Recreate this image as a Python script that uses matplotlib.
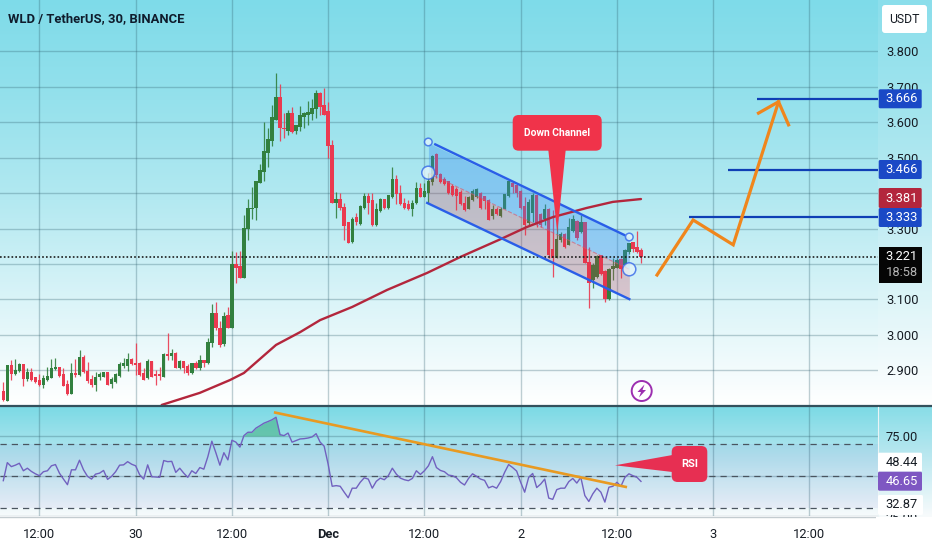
import numpy as np
import matplotlib
matplotlib.use('Agg')
import matplotlib.pyplot as plt
from matplotlib.patches import Rectangle, FancyBboxPatch, Polygon, Circle

W, H = 932, 550

opens = [2.840, 2.815, 2.913, 2.890, 2.899, 2.915, 2.875, 2.894, 2.880, 2.871,
         2.859, 2.874, 2.878, 2.903, 2.908, 2.887, 2.859, 2.834, 2.892, 2.887,
         2.937, 2.896, 2.875, 2.859, 2.882, 2.882, 2.894, 2.862, 2.868, 2.885,
         2.913, 2.913, 2.930, 2.920, 2.920, 2.892, 2.878, 2.925, 2.887, 2.887,
         2.883, 2.945, 2.941, 2.946, 2.906, 2.925, 2.911, 2.894, 2.920, 2.906,
         2.927, 2.920, 2.977, 3.061, 3.019, 2.975, 3.053, 3.021, 3.197, 3.192,
         3.161, 3.298, 3.355, 3.357, 3.429, 3.460, 3.514, 3.547, 3.607, 3.669,
         3.582, 3.575, 3.622, 3.575, 3.587, 3.615, 3.620, 3.622, 3.636, 3.681,
         3.645, 3.629, 3.532, 3.373, 3.380, 3.359, 3.316, 3.263, 3.331, 3.314,
         3.357, 3.390, 3.378, 3.310, 3.350, 3.380, 3.357, 3.388, 3.438, 3.399,
         3.371, 3.366, 3.356, 3.371, 3.413, 3.390, 3.401, 3.432, 3.507, 3.451,
         3.438, 3.432, 3.418, 3.410, 3.401, 3.371, 3.354, 3.380, 3.388, 3.399,
         3.390, 3.378, 3.335, 3.354, 3.335, 3.354, 3.392, 3.427, 3.420, 3.404,
         3.360, 3.315, 3.343, 3.392, 3.338, 3.328, 3.352, 3.240, 3.216, 3.267,
         3.282, 3.253, 3.294, 3.319, 3.291, 3.316, 3.204, 3.155, 3.164, 3.223,
         3.178, 3.100, 3.185, 3.190, 3.213, 3.197, 3.235, 3.260, 3.247, 3.237]
closes = [2.817, 2.913, 2.890, 2.899, 2.915, 2.875, 2.894, 2.873, 2.868, 2.859,
          2.876, 2.882, 2.906, 2.908, 2.885, 2.857, 2.834, 2.890, 2.887, 2.935,
          2.896, 2.870, 2.859, 2.881, 2.887, 2.894, 2.859, 2.873, 2.887, 2.915,
          2.918, 2.930, 2.918, 2.915, 2.887, 2.873, 2.925, 2.883, 2.884, 2.884,
          2.945, 2.941, 2.946, 2.906, 2.925, 2.906, 2.894, 2.918, 2.906, 2.927,
          2.922, 2.979, 3.061, 3.019, 2.972, 3.052, 3.021, 3.197, 3.188, 3.160,
          3.300, 3.357, 3.357, 3.432, 3.462, 3.516, 3.549, 3.613, 3.669, 3.582,
          3.579, 3.622, 3.573, 3.590, 3.617, 3.622, 3.626, 3.638, 3.681, 3.643,
          3.620, 3.532, 3.373, 3.380, 3.357, 3.307, 3.260, 3.324, 3.319, 3.360,
          3.390, 3.373, 3.310, 3.352, 3.380, 3.357, 3.392, 3.438, 3.397, 3.368,
          3.357, 3.354, 3.371, 3.413, 3.390, 3.404, 3.432, 3.502, 3.451, 3.432,
          3.425, 3.399, 3.394, 3.392, 3.369, 3.352, 3.388, 3.404, 3.408, 3.357,
          3.378, 3.324, 3.354, 3.341, 3.354, 3.394, 3.432, 3.416, 3.399, 3.357,
          3.310, 3.373, 3.392, 3.315, 3.310, 3.354, 3.225, 3.218, 3.269, 3.282,
          3.247, 3.303, 3.324, 3.272, 3.316, 3.204, 3.146, 3.194, 3.221, 3.172,
          3.100, 3.185, 3.193, 3.209, 3.185, 3.237, 3.256, 3.241, 3.235, 3.221]
highs = [2.868, 2.913, 2.930, 2.931, 2.922, 2.917, 2.906, 2.906, 2.883, 2.890,
         2.887, 2.909, 2.932, 2.934, 2.911, 2.906, 2.873, 2.922, 2.931, 2.959,
         2.945, 2.925, 2.887, 2.897, 2.897, 2.894, 2.894, 2.883, 2.892, 2.925,
         2.934, 2.950, 2.934, 2.977, 2.925, 2.906, 2.931, 2.927, 2.901, 2.909,
         2.948, 3.007, 2.960, 2.953, 2.930, 2.925, 2.918, 2.920, 2.928, 2.943,
         2.930, 2.991, 3.087, 3.094, 3.039, 3.064, 3.078, 3.237, 3.234, 3.237,
         3.338, 3.382, 3.418, 3.432, 3.482, 3.601, 3.582, 3.648, 3.737, 3.707,
         3.624, 3.634, 3.641, 3.592, 3.645, 3.629, 3.660, 3.664, 3.690, 3.685,
         3.695, 3.657, 3.549, 3.404, 3.401, 3.371, 3.319, 3.331, 3.343, 3.366,
         3.401, 3.401, 3.401, 3.373, 3.385, 3.382, 3.394, 3.472, 3.451, 3.422,
         3.385, 3.380, 3.380, 3.432, 3.427, 3.429, 3.455, 3.507, 3.512, 3.455,
         3.446, 3.435, 3.425, 3.416, 3.408, 3.392, 3.392, 3.410, 3.413, 3.404,
         3.392, 3.382, 3.366, 3.361, 3.360, 3.397, 3.438, 3.435, 3.422, 3.408,
         3.390, 3.382, 3.399, 3.394, 3.343, 3.369, 3.357, 3.352, 3.329, 3.291,
         3.288, 3.329, 3.338, 3.324, 3.338, 3.319, 3.249, 3.202, 3.225, 3.225,
         3.183, 3.188, 3.216, 3.216, 3.216, 3.241, 3.258, 3.263, 3.294, 3.244]
lows = [2.815, 2.815, 2.873, 2.887, 2.897, 2.857, 2.871, 2.871, 2.866, 2.856,
        2.850, 2.871, 2.878, 2.901, 2.881, 2.857, 2.831, 2.834, 2.883, 2.884,
        2.894, 2.866, 2.854, 2.843, 2.873, 2.881, 2.859, 2.852, 2.866, 2.883,
        2.906, 2.899, 2.916, 2.887, 2.884, 2.873, 2.875, 2.881, 2.859, 2.873,
        2.883, 2.930, 2.930, 2.906, 2.903, 2.894, 2.887, 2.889, 2.903, 2.901,
        2.911, 2.918, 2.965, 3.014, 2.967, 2.969, 3.019, 3.021, 3.147, 3.160,
        3.160, 3.267, 3.328, 3.324, 3.429, 3.435, 3.474, 3.532, 3.605, 3.547,
        3.554, 3.563, 3.570, 3.566, 3.575, 3.582, 3.591, 3.605, 3.610, 3.620,
        3.620, 3.500, 3.371, 3.329, 3.352, 3.268, 3.258, 3.260, 3.310, 3.310,
        3.354, 3.341, 3.307, 3.307, 3.347, 3.354, 3.354, 3.385, 3.369, 3.366,
        3.354, 3.352, 3.335, 3.369, 3.388, 3.388, 3.371, 3.422, 3.441, 3.429,
        3.422, 3.397, 3.392, 3.352, 3.366, 3.350, 3.354, 3.378, 3.385, 3.354,
        3.354, 3.324, 3.326, 3.338, 3.333, 3.354, 3.390, 3.399, 3.388, 3.354,
        3.282, 3.310, 3.319, 3.305, 3.305, 3.310, 3.216, 3.164, 3.216, 3.263,
        3.244, 3.253, 3.291, 3.268, 3.286, 3.202, 3.075, 3.131, 3.160, 3.169,
        3.094, 3.099, 3.155, 3.188, 3.160, 3.193, 3.228, 3.235, 3.230, 3.204]
rsi = [47.1, 58.4, 55.9, 56.8, 58.0, 53.3, 54.9, 52.9, 51.4, 50.2,
       52.7, 53.3, 56.4, 57.2, 51.8, 48.1, 44.6, 53.9, 53.9, 59.9,
       53.9, 49.8, 48.1, 51.2, 51.8, 53.5, 47.9, 49.8, 52.7, 56.8,
       57.0, 59.0, 57.4, 56.4, 50.8, 48.1, 57.0, 49.6, 49.4, 49.2,
       59.7, 59.0, 59.2, 52.3, 54.9, 51.8, 49.2, 53.3, 51.6, 55.3,
       54.3, 62.1, 71.8, 64.6, 56.8, 64.6, 60.1, 72.4, 71.2, 68.1,
       75.3, 77.4, 77.4, 80.0, 81.5, 83.1, 84.1, 85.2, 86.8, 75.9,
       75.3, 76.9, 71.2, 72.2, 73.2, 73.4, 73.8, 74.5, 76.5, 71.2,
       68.7, 57.4, 43.6, 44.0, 43.6, 39.9, 36.4, 42.4, 42.4, 46.1,
       48.9, 48.1, 42.4, 46.7, 48.7, 47.7, 50.2, 54.9, 51.2, 48.7,
       47.7, 47.1, 48.5, 53.3, 51.0, 53.3, 56.4, 62.1, 55.3, 53.5,
       52.7, 50.6, 50.2, 48.9, 46.1, 44.4, 48.5, 51.4, 49.8, 48.1,
       47.3, 42.6, 43.6, 42.4, 46.5, 52.3, 57.2, 55.3, 53.1, 46.1,
       39.9, 49.2, 51.6, 42.8, 45.0, 48.1, 36.2, 35.4, 41.5, 42.4,
       42.4, 46.5, 48.5, 45.6, 49.2, 37.8, 34.1, 38.9, 42.4, 39.9,
       33.7, 43.0, 43.6, 46.1, 43.6, 49.2, 51.4, 50.2, 49.2, 46.65]

ma_bars = [39.5, 49, 56.5, 60, 68, 74, 79, 87, 95.7, 105.7, 114, 124, 130.5, 137, 145.5, 152, 159]
ma_vals = [2.803, 2.837, 2.873, 2.893, 2.972, 3.008, 3.042, 3.079, 3.127, 3.175, 3.220, 3.270, 3.304, 3.332, 3.358, 3.375, 3.383]

tick_bars = [9, 33, 57, 81, 105, 129, 153, 177, 201]
tick_labels = ['12:00', '30', '12:00', 'Dec', '12:00', '2', '12:00', '3', '12:00']
price_ticks = [2.9, 3.0, 3.1, 3.2, 3.3, 3.4, 3.5, 3.6, 3.7, 3.8]
# 3.200 sits fully behind the black last-price box
price_labels = ['2.900', '3.000', '3.100', '', '3.300', '3.400', '3.500', '3.600', '3.700', '3.800']

# channel: bar index, price
chan_top = ([107.7, 154.8], [3.537, 3.282])
chan_bot = ([105.7, 156.1], [3.372, 3.101])
chan_x = [106, 156.1]
chan_upper = [3.541, 3.276]
chan_mid = [3.456, 3.185]
chan_lower = [3.372, 3.101]

# forecast arrow
path_bars = [163, 172, 182, 193.3]
path_vals = [3.169, 3.324, 3.254, 3.657]
head_bars = [188.3, 193.3, 195.8]
head_vals = [3.625, 3.657, 3.592]

targets = [3.666, 3.466, 3.333]
target_start = [187.9, 180.7, 171]

rsi_trend_bars = [67.8, 155.2]
rsi_trend_vals = [89.7, 43.2]

plt.rcParams['font.family'] = ['Roboto', 'DejaVu Sans']
fig = plt.figure(figsize=(W / 100, H / 100), dpi=100)


def rect(x0, y0, x1, y1):
    return [x0 / W, 1 - y1 / H, (x1 - x0) / W, (y1 - y0) / H]


def gradient(ys, stops, cols):
    rgb = np.array([matplotlib.colors.to_rgb(c) for c in cols])
    return np.stack([np.interp(ys, stops, rgb[:, k]) for k in range(3)], axis=1)[:, None, :]


# backgrounds
bg = fig.add_axes([0, 0, 1, 1], zorder=0)
bg.axis('off')
ys = np.arange(H)
main_grad = gradient(ys[:406], [0, 100, 200, 300, 405], ['#7edbe9', '#95e1ec', '#b3e9f1', '#daf4f8', '#ffffff'])
rsi_grad = gradient(ys[:111], [0, 50, 110], ['#7cdae5', '#b4e6ef', '#f8fbfc'])
bg.imshow(main_grad, extent=[0, W, 405, 0], aspect='auto', zorder=0)
bg.imshow(rsi_grad, extent=[0, W, 517, 407], aspect='auto', zorder=0)
bg.set_xlim(0, W)
bg.set_ylim(H, 0)
bg.add_patch(Rectangle((878, 0), 54, 517, fc='white', alpha=0.1, ec='none', zorder=1))

ax = fig.add_axes(rect(0, 0, 878, 405), zorder=1)
ax2 = fig.add_axes(rect(0, 407, 878, 516), zorder=1, sharex=ax)
for a in (ax, ax2):
    a.patch.set_alpha(0)
    for s in a.spines.values():
        s.set_visible(False)
    a.grid(True, color='#2f5f6e', alpha=0.3, lw=1.0)
    a.set_axisbelow(True)
    a.yaxis.tick_right()
    a.tick_params(length=0, labelsize=9.3, labelcolor='#161c24')

ax.set_xlim(-0.823, 218.1)
ax.set_ylim(2.8028, 3.9437)
ax.set_xticks(tick_bars)
ax.tick_params(labelbottom=False)
ax.set_yticks(price_ticks)
ax.set_yticklabels(price_labels)
ax.tick_params(axis='y', pad=5.8)

# candles
bars = np.arange(len(opens))
o, c, hi, lo = map(np.array, (opens, closes, highs, lows))
up = c >= o
col = np.where(up, '#32803f', '#ea3a50')
ax.vlines(bars, lo, hi, colors=col, lw=0.9, alpha=0.9, zorder=3)
ax.bar(bars, np.abs(c - o) + 0.002, bottom=np.minimum(o, c), width=0.85, color=col, zorder=3, lw=0)

# channel
ax.fill_between(chan_x, chan_mid, chan_upper, color='#2f86f2', alpha=0.33, lw=0, zorder=4)
ax.fill_between(chan_x, chan_lower, chan_mid, color='#d62f45', alpha=0.24, lw=0, zorder=4)
ax.plot(chan_x, chan_mid, color='#e2505f', lw=0.8, ls='--', alpha=0.6, zorder=4)
ax.plot(*chan_top, color='#2a5ee8', lw=1.7, zorder=6)
ax.plot(*chan_bot, color='#2a5ee8', lw=1.7, zorder=6)

# moving average
ax.plot(ma_bars, ma_vals, color='#b3263c', lw=1.7, zorder=5, solid_capstyle='round')

# last price
ax.axhline(3.221, color='#1c1c1c', lw=1.2, ls=(0, (1, 1.3)), zorder=5)

# targets
for val, start in zip(targets, target_start):
    ax.hlines(val, start, ax.get_xlim()[1], color='#0f3fb5', lw=1.6, zorder=6)

# forecast arrow
ax.plot(path_bars, path_vals, color='#f0861c', lw=2.3, zorder=7, solid_joinstyle='miter')
ax.plot(head_bars, head_vals, color='#f0861c', lw=2.3, zorder=7, solid_joinstyle='miter')

# rsi pane
ax2.set_ylim(25.9, 93.2)
ax2.set_yticks([25, 50, 75])
ax2.set_yticklabels(['', '', '75.00'])
ax2.tick_params(axis='y', pad=5.8)
ax2.set_xticks(tick_bars)
ax2.set_xticklabels(tick_labels)
ax2.tick_params(axis='x', pad=9, labelsize=9.3)
for lab in ax2.get_xticklabels():
    if lab.get_text() == 'Dec':
        lab.set_fontweight('bold')
ax2.axhspan(30, 70, color='#7e57c2', alpha=0.07, lw=0)
for lvl in (70, 50, 30):
    ax2.axhline(lvl, color='#4a5560', lw=0.9, ls=(0, (5, 4)))
r = np.array(rsi)
ax2.fill_between(bars, r, 75, where=(r > 75) & (bars >= 59) & (bars <= 69), interpolate=True,
                 color='#43b285', alpha=0.6, lw=0)
ax2.plot(bars, r, color='#7161bf', lw=1.0, zorder=4)
ax2.plot(rsi_trend_bars, rsi_trend_vals, color='#e89a22', lw=1.9, zorder=5)

# overlay in pixels: scale tags, buttons, callouts
ov = fig.add_axes([0, 0, 1, 1], zorder=5)
ov.set_xlim(0, W)
ov.set_ylim(H, 0)
ov.axis('off')
ov.patch.set_alpha(0)

# pane separator and bottom edge
ov.plot([0, W], [405.7, 405.7], color='#33505c', lw=1.6)
ov.plot([0, 878], [516.5, 516.5], color='#c4ccd0', lw=1.0)
ov.plot([878, 878], [407, 517], color='#eaf4f6', lw=0.8)


def tag(y0, y1, text, bg_col, fg='white', x0=878.7, x1=921.7):
    ov.add_patch(FancyBboxPatch((x0, y0), x1 - x0, y1 - y0, boxstyle='round,pad=0,rounding_size=1.5',
                                fc=bg_col, ec='none', zorder=3))
    ov.text(901.7, (y0 + y1) / 2, text, color=fg, fontsize=9.3, ha='center', va='center', zorder=4)


tag(89.3, 108.3, '3.666', '#1a49c6')
tag(160, 179, '3.466', '#1a49c6')
tag(188, 208, '3.381', '#b3263c')
tag(208, 227, '3.333', '#1a49c6')
ov.add_patch(Rectangle((878.7, 247), 43, 36, fc='#050505', ec='none', zorder=3))
ov.text(901.7, 257, '3.221', color='white', fontsize=9.3, ha='center', va='center', zorder=4)
ov.text(901.7, 273, '18:58', color='#b5b5b5', fontsize=9.3, ha='center', va='center', zorder=4)
ov.text(901.7, 518, '25.00', color='#161c24', fontsize=9.3, ha='center', va='center', zorder=2)
ov.add_patch(Rectangle((876, 516.5), 56, 33, fc='white', ec='none', zorder=2.5))
tag(452.7, 471.7, '48.44', 'white', fg='#161c24', x0=878, x1=922)
tag(471.7, 490.7, '46.65', '#7e57c2', x0=878, x1=922)
tag(495, 515, '32.87', 'white', fg='#161c24', x0=878, x1=923)

# USDT button
ov.add_patch(FancyBboxPatch((882, 5), 45, 28, boxstyle='round,pad=0,rounding_size=3', fc='white', ec='none', zorder=3))
ov.text(904.5, 19.5, 'USDT', color='#161c24', fontsize=8.8, ha='center', va='center', zorder=4)

# title
ov.text(8, 19, 'WLD / TetherUS, 30, BINANCE', color='#0f1c2c', fontsize=9.4, fontweight='bold',
        ha='left', va='center', zorder=4)

# Down Channel callout
red = '#f0334a'
ov.add_patch(FancyBboxPatch((512.7, 115), 89, 35.7, boxstyle='round,pad=0,rounding_size=6', fc=red, ec='none', zorder=3))
ov.add_patch(Polygon([(548.3, 150), (565.7, 150), (557.3, 233)], fc=red, ec='none', zorder=3))
ov.text(557, 133, 'Down Channel', color='white', fontsize=7.4, fontweight='bold', ha='center', va='center', zorder=4)

# RSI callout
red2 = '#e72f52'
ov.add_patch(FancyBboxPatch((671.7, 446), 35.6, 36, boxstyle='round,pad=0,rounding_size=6', fc=red2, ec='none', zorder=3))
ov.add_patch(Polygon([(672.5, 455), (672.5, 472), (615, 465.3)], fc=red2, ec='none', zorder=3))
ov.text(689.5, 464, 'RSI', color='white', fontsize=8, fontweight='bold', ha='center', va='center', zorder=4)

# channel handles
for cx, cy, rad in [(428.3, 142, 3.8), (428.3, 172.7, 6.5), (629.3, 237, 3.8), (629.3, 269.3, 6.5)]:
    ov.add_patch(Circle((cx, cy), rad, fc='#e6f6fb', ec='#2a5ee8', lw=1.1, alpha=0.75, zorder=2))

# flash icon
ov.add_patch(Circle((641.7, 391), 10, fc='white', ec='#9c2fb0', lw=1.4, zorder=2))
ov.add_patch(Polygon([(644.5, 384.5), (637.5, 392), (641, 392), (639, 397.5), (646, 390), (642.5, 390)],
                     fc='#9c2fb0', ec='none', zorder=3))

fig.savefig('out.png', dpi=100)
